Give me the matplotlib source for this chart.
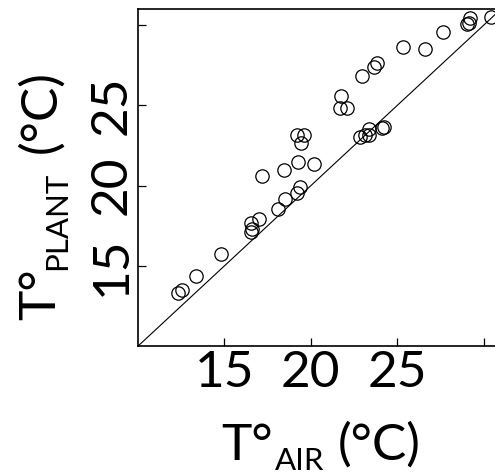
import matplotlib
matplotlib.use("Agg")
import matplotlib.pyplot as plt

plt.rcParams['font.family'] = ['Lato', 'DejaVu Sans']

# Air temperature (x) and plant temperature (y), degrees C
t_air = [12.34, 12.54, 13.36, 14.81, 16.55, 16.58, 16.55, 17.01, 18.11, 18.48,
         19.19, 19.38, 17.20, 18.45, 19.25, 20.17, 19.19, 19.63, 19.44, 22.84,
         23.13, 23.39, 23.36, 24.12, 24.24, 21.73, 21.69, 22.07, 22.95, 23.68,
         23.85, 25.32, 26.61, 27.66, 29.03, 29.20, 29.15, 30.42]
t_plant = [13.34, 13.50, 14.37, 15.74, 17.65, 17.33, 17.14, 17.93, 18.54, 19.20,
           19.56, 19.89, 20.62, 20.97, 21.49, 21.33, 23.15, 23.15, 22.63, 23.04,
           23.18, 23.52, 23.15, 23.60, 23.63, 25.61, 24.81, 24.81, 26.82, 27.40,
           27.65, 28.61, 28.50, 29.58, 30.09, 30.41, 30.14, 30.51]
tick_vals = [15, 20, 25, 30]
tick_labels = ['15', '20', '25', '']
one_to_one = [10, 31]

W, H = 495, 476
fig = plt.figure(figsize=(W / 100, H / 100), dpi=100)
left, bottom, top = 137.8, 346.3, 9.0
width = 363.3
ax = fig.add_axes([left / W, (H - bottom) / H, width / W, (bottom - top) / H])

ax.plot(one_to_one, one_to_one, color='black', lw=0.8)
ax.plot(t_air, t_plant, linestyle='none', marker='o', markersize=9.6,
        markerfacecolor='none', markeredgecolor='black', markeredgewidth=0.9)

ax.set_xlim(10, 31)
ax.set_ylim(10, 31)
ax.set_xticks(tick_vals)
ax.set_xticklabels(tick_labels)
ax.set_yticks(tick_vals)
ax.set_yticklabels(tick_labels, rotation=90, va='center')
ax.tick_params(direction='in', length=6, width=0.9, labelsize=37)
ax.tick_params(axis='x', pad=3)
ax.tick_params(axis='y', pad=2)
for s in ax.spines.values():
    s.set_linewidth(1.2)


def fx(px):
    return px / W


def fy(py):
    return 1 - py / H


main_size = 37
sub_size = 22.5

# x-axis title pieces
fig.text(fx(221.7), fy(460), 'T°', fontsize=main_size, ha='left', va='baseline')
fig.text(fx(275), fy(469.5), 'AIR', fontsize=sub_size, ha='left', va='baseline')
fig.text(fx(338), fy(460), '(°C)', fontsize=main_size, ha='left', va='baseline')

# y-axis title pieces (rotated)
fig.text(fx(55), fy(320), 'T°', fontsize=main_size, ha='left', va='baseline',
         rotation=90, rotation_mode='anchor')
fig.text(fx(66.5), fy(270), 'PLANT', fontsize=sub_size, ha='left', va='baseline',
         rotation=90, rotation_mode='anchor')
fig.text(fx(55), fy(153.3), '(°C)', fontsize=main_size, ha='left', va='baseline',
         rotation=90, rotation_mode='anchor')

fig.savefig('out.png', dpi=100)
